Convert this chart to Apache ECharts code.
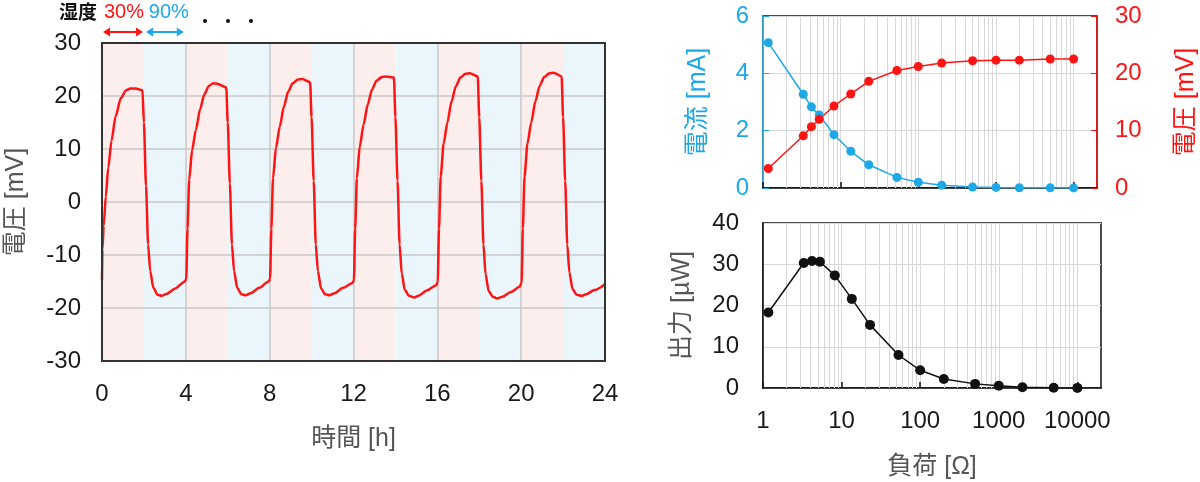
<!DOCTYPE html>
<html>
<head>
<meta charset="utf-8">
<script src="https://cdn.jsdelivr.net/npm/echarts@6/dist/echarts.min.js"></script>
<style>
  html, body { margin: 0; padding: 0; background: #fff; }
  #main { width: 1200px; height: 482px; }
</style>
</head>
<body>
<div id="main"></div>
<script>
// 左: 電圧の時間変化 (湿度 30% / 90% を2時間ごとに切り替え)
const hours = [
  0, 0.02, 0.08, 0.18, 0.3, 0.45, 0.65, 0.9, 1.15, 1.35, 1.6, 1.93, 2.0, 2.1, 2.2, 2.3, 2.45, 2.65, 2.85, 3.1, 3.5, 3.95,
  4.02, 4.08, 4.16, 4.3, 4.48, 4.68, 4.88, 5.1, 5.3, 5.5, 5.93, 6.0, 6.1, 6.2, 6.3, 6.45, 6.65, 6.85, 7.1, 7.5, 7.95,
  8.02, 8.08, 8.16, 8.3, 8.48, 8.68, 8.88, 9.1, 9.35, 9.55, 9.93, 10.0, 10.1, 10.2, 10.3, 10.45, 10.65, 10.85, 11.1, 11.5, 11.95,
  12.02, 12.08, 12.16, 12.3, 12.48, 12.68, 12.88, 13.1, 13.35, 13.55, 13.93, 14.0, 14.1, 14.2, 14.3, 14.45, 14.65, 14.9, 15.1, 15.5, 15.95,
  16.02, 16.08, 16.16, 16.3, 16.48, 16.68, 16.88, 17.1, 17.35, 17.55, 17.93, 18.0, 18.1, 18.2, 18.3, 18.45, 18.65, 18.85, 19.1, 19.5, 19.93,
  20.02, 20.08, 20.16, 20.3, 20.48, 20.68, 20.88, 21.1, 21.35, 21.55, 21.93, 22.0, 22.1, 22.2, 22.3, 22.45, 22.65, 22.88, 23.1, 23.5, 24.0
];
const voltage = [
  -14.7, -9.0, -4.5, 1.0, 6.5, 11.5, 16.2, 19.6, 21.1, 21.4, 21.4, 21.1, 15.0, 3.0, -8.0, -13.0, -16.2, -17.5, -17.7, -17.3, -16.3, -15.0,
  -14.5, -5.0, 4.2, 9.8, 13.6, 17.5, 20.3, 21.9, 22.4, 22.3, 21.6, 15.0, 3.5, -8.0, -13.0, -16.2, -17.4, -17.6, -17.2, -16.2, -15.0,
  -14.5, -5.0, 4.5, 10.2, 14.2, 18.0, 20.8, 22.4, 23.1, 23.2, 22.6, 16.0, 4.0, -8.0, -13.0, -16.3, -17.4, -17.6, -17.2, -16.2, -15.3,
  -14.8, -5.0, 4.5, 10.5, 14.6, 18.4, 21.2, 22.9, 23.6, 23.7, 23.5, 16.0, 4.0, -8.0, -13.5, -16.6, -17.7, -18.0, -17.7, -16.7, -15.7,
  -15.0, -5.0, 4.8, 11.0, 15.0, 19.0, 21.8, 23.5, 24.2, 24.3, 23.7, 16.0, 4.0, -8.0, -13.6, -16.8, -17.9, -18.2, -17.9, -17.0, -16.0,
  -15.2, -5.0, 4.8, 11.0, 15.0, 19.0, 21.9, 23.6, 24.3, 24.4, 23.7, 16.0, 4.0, -8.0, -13.3, -16.4, -17.5, -17.7, -17.4, -16.6, -15.5
];
const bandEdges = [0, 2, 4, 6, 8, 10, 12, 14, 16, 18, 20, 22, 24];
const bandHumidity = [30, 90, 30, 90, 30, 90, 30, 90, 30, 90, 30, 90];
const timeTicks = [0, 4, 8, 12, 16, 20, 24];

// 右: 負荷抵抗に対する電流・電圧・出力
const loads = [1.17, 3.3, 4.2, 5.3, 8.2, 13.5, 23, 53, 100, 200, 500, 1000, 2000, 5000, 10000];
const currentMA = [5.07, 3.27, 2.83, 2.55, 1.86, 1.28, 0.81, 0.37, 0.2, 0.1, 0.035, 0.02, 0.01, 0.005, 0.002];
const voltageMV = [3.4, 9.1, 10.7, 12.0, 14.3, 16.4, 18.6, 20.5, 21.2, 21.8, 22.2, 22.3, 22.3, 22.5, 22.5];
const powerUW = [18.3, 30.3, 30.8, 30.6, 27.3, 21.6, 15.3, 8.0, 4.3, 2.2, 1.0, 0.56, 0.2, 0.05, 0.03];
const loadTicks = [1, 10, 100, 1000, 10000];
const minorLoads = [2, 3, 4, 5, 6, 7, 8, 9, 20, 30, 40, 50, 60, 70, 80, 90,
  200, 300, 400, 500, 600, 700, 800, 900, 2000, 3000, 4000, 5000, 6000, 7000, 8000, 9000];

const RED = '#ff1414';
const BLUE = '#1ea8e6';
const PINK_BG = '#fdeeee';
const BLUE_BG = '#eaf6fc';
const FONT = "'Liberation Sans', 'Noto Sans CJK JP', sans-serif";
const GRIDLINE = '#d8d8d8';
const TICK_FS = 24;
const NAME_FS = 25;

const chart = echarts.init(document.getElementById('main'));

const minorLines = {
  silent: true,
  z: 1,
  symbol: ['none', 'none'],
  label: { show: false },
  lineStyle: { color: GRIDLINE, type: 'solid', width: 1 },
  data: minorLoads.map(v => ({ xAxis: v }))
};

const option = {
  animation: false,
  textStyle: { fontFamily: FONT },
  grid: [
    { left: 102, top: 43, width: 503, height: 318, show: true, borderColor: '#333', borderWidth: 2, z: 3 },
    { left: 763, top: 16, width: 338, height: 172, show: true, borderColor: '#111', borderWidth: 1.5 },
    { left: 763, top: 223, width: 338, height: 165, show: true, borderColor: '#111', borderWidth: 1.5 }
  ],
  xAxis: [
    {
      gridIndex: 0, type: 'value', min: 0, max: 24, interval: 4, z: 1,
      name: '時間 [h]', nameLocation: 'middle', nameGap: 66,
      nameTextStyle: { fontSize: NAME_FS, color: '#555', fontFamily: FONT },
      axisLine: { onZero: false, lineStyle: { color: '#333', width: 2 } },
      axisTick: { show: false },
      axisLabel: { fontSize: TICK_FS, color: '#1a1a1a', margin: 21, customValues: timeTicks },
      splitLine: { show: true, lineStyle: { color: '#c8c8c8', width: 1.5 } }
    },
    {
      gridIndex: 1, type: 'log', logBase: 10, min: 1, max: 20000,
      axisLine: { onZero: false, lineStyle: { color: '#111', width: 1.5 } },
      axisTick: { show: true, inside: true, length: 6, customValues: loadTicks, lineStyle: { color: '#111', width: 1.5 } },
      axisLabel: { show: false },
      splitLine: { show: true, lineStyle: { color: GRIDLINE } }
    },
    {
      gridIndex: 2, type: 'log', logBase: 10, min: 1, max: 20000,
      name: '負荷 [Ω]', nameLocation: 'middle', nameGap: 67,
      nameTextStyle: { fontSize: NAME_FS, color: '#555', fontFamily: FONT },
      axisLine: { onZero: false, lineStyle: { color: '#111', width: 1.5 } },
      axisTick: { show: true, inside: true, length: 6, customValues: loadTicks, lineStyle: { color: '#111', width: 1.5 } },
      axisLabel: { fontSize: TICK_FS, color: '#1a1a1a', margin: 21, customValues: loadTicks, formatter: v => String(v) },
      splitLine: { show: true, lineStyle: { color: GRIDLINE } }
    }
  ],
  yAxis: [
    {
      gridIndex: 0, type: 'value', min: -30, max: 30, interval: 10, z: 1,
      name: '電圧 [mV]', nameLocation: 'middle', nameGap: 73, nameRotate: 90,
      nameTextStyle: { fontSize: NAME_FS, color: '#555', fontFamily: FONT },
      axisLine: { show: true, lineStyle: { color: '#333', width: 2 } },
      axisTick: { show: false },
      axisLabel: { fontSize: TICK_FS, color: '#1a1a1a', margin: 21 },
      splitLine: { show: true, lineStyle: { color: '#c8c8c8', width: 1.5 } }
    },
    {
      gridIndex: 1, type: 'value', min: 0, max: 6, interval: 2,
      name: '電流 [mA]', nameLocation: 'middle', nameGap: 52, nameRotate: 90,
      nameTextStyle: { fontSize: NAME_FS, color: BLUE, fontFamily: FONT },
      axisLine: { show: true, lineStyle: { color: BLUE, width: 1.5 } },
      axisTick: { show: true, inside: true, length: 6, lineStyle: { color: BLUE } },
      axisLabel: { fontSize: TICK_FS, color: BLUE, margin: 14 },
      splitLine: { show: true, lineStyle: { color: GRIDLINE } }
    },
    {
      gridIndex: 1, type: 'value', position: 'right', min: 0, max: 30, interval: 10,
      name: '電圧 [mV]', nameLocation: 'middle', nameGap: 77, nameRotate: 90,
      nameTextStyle: { fontSize: NAME_FS, color: RED, fontFamily: FONT },
      axisLine: { show: true, lineStyle: { color: RED, width: 1.5 } },
      axisTick: { show: true, inside: true, length: 6, lineStyle: { color: RED } },
      axisLabel: { fontSize: TICK_FS, color: RED, margin: 18 },
      splitLine: { show: false }
    },
    {
      gridIndex: 2, type: 'value', min: 0, max: 40, interval: 10,
      name: '出力 [µW]', nameLocation: 'middle', nameGap: 68, nameRotate: 90,
      nameTextStyle: { fontSize: NAME_FS, color: '#555', fontFamily: FONT },
      axisLine: { show: true, lineStyle: { color: '#111', width: 1.5 } },
      axisTick: { show: false },
      axisLabel: { fontSize: TICK_FS, color: '#1a1a1a', margin: 24 },
      splitLine: { show: true, lineStyle: { color: GRIDLINE } }
    }
  ],
  series: [
    {
      name: '電圧', type: 'line', xAxisIndex: 0, yAxisIndex: 0, z: 2,
      data: hours.map((h, i) => [h, voltage[i]]),
      showSymbol: false, smooth: 0.25, smoothMonotone: 'x',
      lineStyle: { color: RED, width: 2.5 },
      markArea: {
        silent: true, z: 0,
        data: bandHumidity.map((rh, i) => [
          { xAxis: bandEdges[i], itemStyle: { color: rh === 30 ? PINK_BG : BLUE_BG } },
          { xAxis: bandEdges[i + 1] }
        ])
      }
    },
    {
      name: '電流', type: 'line', xAxisIndex: 1, yAxisIndex: 1,
      data: loads.map((r, i) => [r, currentMA[i]]),
      symbol: 'circle', symbolSize: 9,
      itemStyle: { color: BLUE }, lineStyle: { color: BLUE, width: 1.5 },
      markLine: minorLines
    },
    {
      name: '電圧R', type: 'line', xAxisIndex: 1, yAxisIndex: 2,
      data: loads.map((r, i) => [r, voltageMV[i]]),
      symbol: 'circle', symbolSize: 9,
      itemStyle: { color: RED }, lineStyle: { color: RED, width: 1.5 }
    },
    {
      name: '出力', type: 'line', xAxisIndex: 2, yAxisIndex: 3,
      data: loads.map((r, i) => [r, powerUW[i]]),
      symbol: 'circle', symbolSize: 10,
      itemStyle: { color: '#111' }, lineStyle: { color: '#111', width: 1.5 },
      markLine: minorLines
    }
  ]
};

chart.setOption(option);

// 湿度ラベルと矢印 (軸座標から位置を計算)
const px = t => chart.convertToPixel({ gridIndex: 0 }, [t, 30]);
const [x0, yTop] = px(bandEdges[0]);
const x2 = px(bandEdges[1])[0];
const x4 = px(bandEdges[2])[0];
const arrowY = yTop - 11;

function arrow(xa, xb, color) {
  const h = 7, w = 4.5;
  return [
    { type: 'line', shape: { x1: xa + 3, y1: arrowY, x2: xb - 3, y2: arrowY }, style: { stroke: color, lineWidth: 2 } },
    { type: 'polygon', shape: { points: [[xa, arrowY], [xa + h, arrowY - w], [xa + h, arrowY + w]] }, style: { fill: color } },
    { type: 'polygon', shape: { points: [[xb, arrowY], [xb - h, arrowY - w], [xb - h, arrowY + w]] }, style: { fill: color } }
  ];
}

chart.setOption({
  graphic: [
    { type: 'text', x: x0 - 5, y: 12, style: { text: '湿度', fill: '#111', font: "bold 19px 'Noto Sans CJK JP'", align: 'right', verticalAlign: 'middle' } },
    { type: 'text', x: (x0 + x2) / 2 + 1, y: 12, style: { text: bandHumidity[0] + '%', fill: RED, font: "20px 'Liberation Sans'", align: 'center', verticalAlign: 'middle' } },
    { type: 'text', x: (x2 + x4) / 2 + 4, y: 12, style: { text: bandHumidity[1] + '%', fill: BLUE, font: "20px 'Liberation Sans'", align: 'center', verticalAlign: 'middle' } },
    { type: 'circle', shape: { cx: 205, cy: 21, r: 2 }, style: { fill: '#111' } },
    { type: 'circle', shape: { cx: 228, cy: 21, r: 2 }, style: { fill: '#111' } },
    { type: 'circle', shape: { cx: 251, cy: 21, r: 2 }, style: { fill: '#111' } },
    ...arrow(x0 + 1, x2 - 1, RED),
    ...arrow(x2 + 2, x4 - 2, BLUE)
  ]
});
</script>
</body>
</html>
